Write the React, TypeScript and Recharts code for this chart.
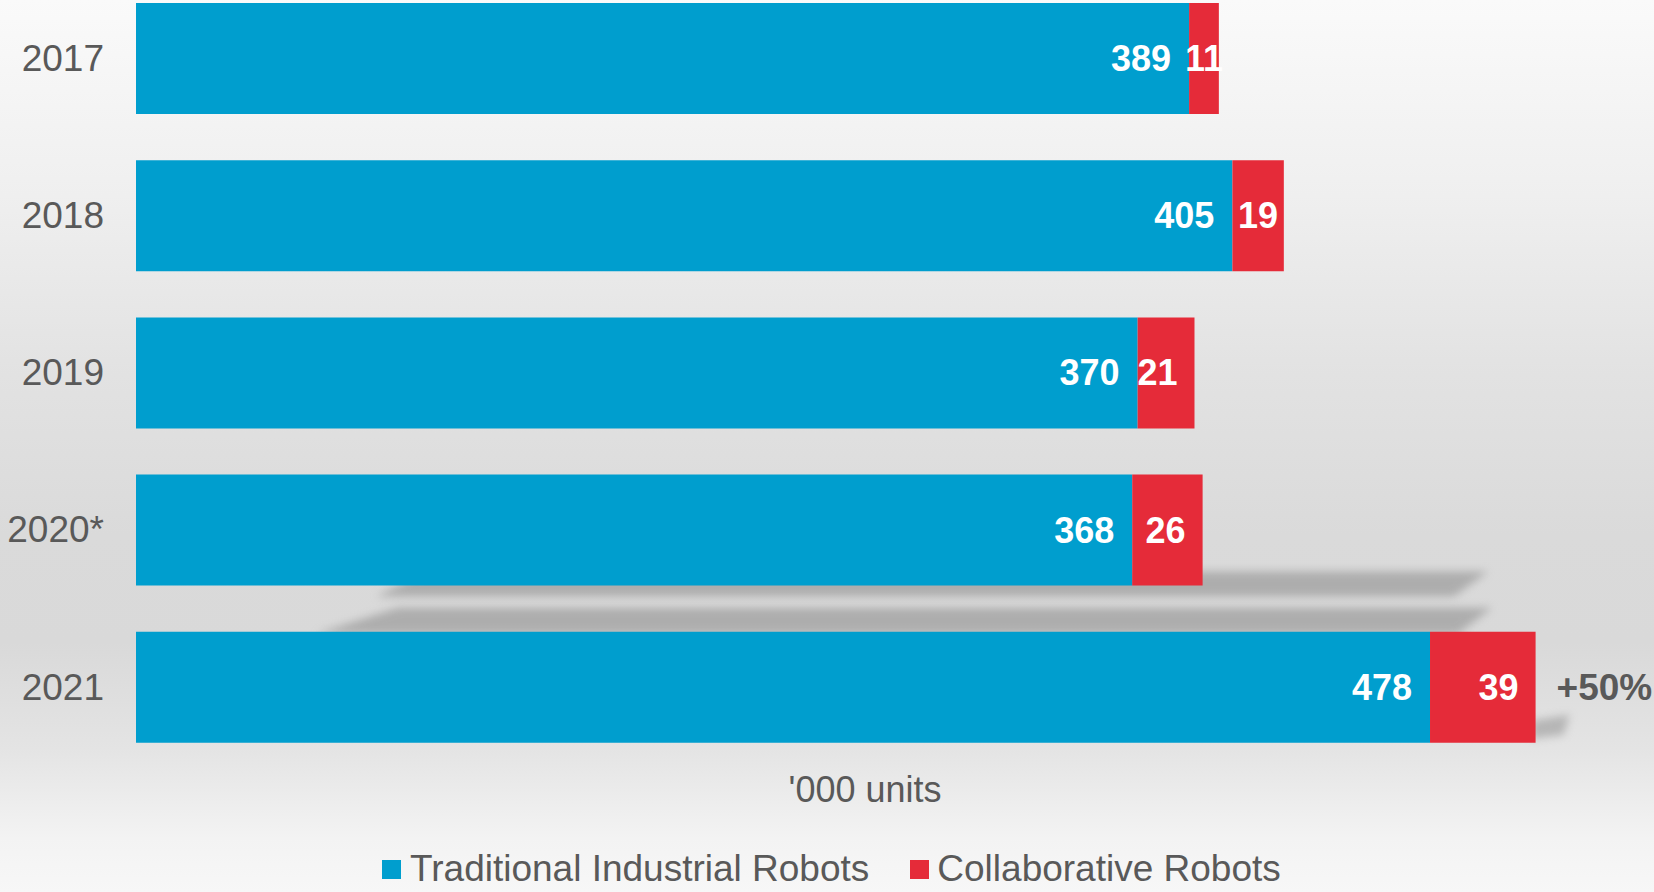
import React from 'react';
import { BarChart, Bar, XAxis, YAxis, LabelList, Rectangle } from 'recharts';

const years = ['2017', '2018', '2019', '2020*', '2021'];
const traditional = [389, 405, 370, 368, 478];
const collaborative = [11, 19, 21, 26, 39];
const growthLabels = ['', '', '', '', '+50%'];

const seriesNames = ['Traditional Industrial Robots', 'Collaborative Robots'];
const unitLabel = "'000 units";

const BLUE = '#009ECE';
const RED = '#E52B39';
const GRAY = '#595959';
const FONT = '"Liberation Sans", Arial, sans-serif';

const data = years.map((year, i) => ({
  year,
  traditional: traditional[i],
  collaborative: collaborative[i],
  growth: growthLabels[i],
}));

const BlueShape = (props: any) => {
  const { x, y, width, height, index, fill } = props;
  const yb = y + height;
  return (
    <g>
      {index === 3 && (
        <g>
          <defs>
            <filter id="shBlurA" x="-10%" y="-100%" width="120%" height="300%">
              <feGaussianBlur stdDeviation="4" />
            </filter>
          </defs>
          <polygon
            points={`${x + 290},${yb - 14} ${x + 1352},${yb - 14} ${x + 1318},${yb + 11} ${x + 240},${yb + 11}`}
            fill="#8a8a8a"
            opacity={0.55}
            filter="url(#shBlurA)"
          />
        </g>
      )}
      {index === 4 && (
        <g>
          <defs>
            <filter id="shBlurB" x="-10%" y="-100%" width="120%" height="300%">
              <feGaussianBlur stdDeviation="4" />
            </filter>
          </defs>
          <polygon
            points={`${x + 262},${y - 24} ${x + 1356},${y - 24} ${x + 1322},${y + 2} ${x + 180},${y + 2}`}
            fill="#8a8a8a"
            opacity={0.55}
            filter="url(#shBlurB)"
          />
        </g>
      )}
      <Rectangle x={x} y={y} width={width} height={height} fill={fill} />
    </g>
  );
};

const RedShape = (props: any) => {
  const { x, y, width, height, index, fill } = props;
  const xe = x + width;
  const yb = y + height;
  return (
    <g>
      {index === 4 && (
        <g>
          <defs>
            <filter id="shBlurC" x="-50%" y="-100%" width="200%" height="300%">
              <feGaussianBlur stdDeviation="4" />
            </filter>
          </defs>
          <polygon
            points={`${xe - 4},${yb - 22} ${xe + 34},${yb - 28} ${xe + 28},${yb - 8} ${xe - 4},${yb - 4}`}
            fill="#8a8a8a"
            opacity={0.5}
            filter="url(#shBlurC)"
          />
        </g>
      )}
      <Rectangle x={x} y={y} width={width} height={height} fill={fill} />
    </g>
  );
};

const BlueLabel = (props: any) => {
  const { x, y, width, height, value } = props;
  return (
    <text
      x={x + width - 18}
      y={y + height / 2}
      textAnchor="end"
      dominantBaseline="central"
      fill="#fff"
      fontFamily={FONT}
      fontWeight="bold"
      fontSize={36}
    >
      {value}
    </text>
  );
};

const RedLabel = (props: any) => {
  const { x, y, width, height, value } = props;
  const w = String(value).length * 0.556 * 36;
  const centered = width < w + 12;
  return (
    <text
      x={centered ? x + width / 2 : x + width - 17}
      y={y + height / 2}
      textAnchor={centered ? 'middle' : 'end'}
      dominantBaseline="central"
      fill="#fff"
      fontFamily={FONT}
      fontWeight="bold"
      fontSize={36}
    >
      {value}
    </text>
  );
};

const GrowthLabel = (props: any) => {
  const { x, y, width, height, value } = props;
  if (!value) return null;
  return (
    <text
      x={x + width + 21}
      y={y + height / 2}
      textAnchor="start"
      dominantBaseline="central"
      fill={GRAY}
      fontFamily={FONT}
      fontWeight="bold"
      fontSize={37}
    >
      {value}
    </text>
  );
};

export default function App() {
  return (
    <div
      style={{
        position: 'absolute',
        left: 0,
        top: 0,
        width: 1654,
        height: 892,
        overflow: 'hidden',
        background:
          'linear-gradient(to bottom, #fafafa 0%, #efefef 22%, #e2e2e2 42%, #dadada 60%, #d9d9d9 72%, #e4e4e4 84%, #f3f3f3 94%, #f7f7f7 100%)',
        fontFamily: FONT,
      }}
    >
      <div style={{ position: 'absolute', left: 0, top: -20 }}>
        <BarChart
          width={1654}
          height={912}
          data={data}
          layout="vertical"
          margin={{ top: 0, right: 2, left: 0, bottom: 126 }}
          barSize={111}
        >
          <XAxis type="number" domain={[0, 560]} hide />
          <YAxis
            type="category"
            dataKey="year"
            width={136}
            axisLine={false}
            tickLine={false}
            tickSize={0}
            tickMargin={32}
            tick={{ fill: GRAY, fontSize: 37, fontFamily: FONT, dy: -1 }}
          />
          <Bar
            dataKey="traditional"
            stackId="a"
            fill={BLUE}
            isAnimationActive={false}
            shape={BlueShape}
            name={seriesNames[0]}
          >
            <LabelList dataKey="traditional" content={BlueLabel} />
          </Bar>
          <Bar
            dataKey="collaborative"
            stackId="a"
            fill={RED}
            isAnimationActive={false}
            shape={RedShape}
            name={seriesNames[1]}
          >
            <LabelList dataKey="collaborative" content={RedLabel} />
            <LabelList dataKey="growth" content={GrowthLabel} />
          </Bar>
        </BarChart>
      </div>
      <div
        style={{
          position: 'absolute',
          left: 865,
          top: 770,
          transform: 'translateX(-50%)',
          fontSize: 36,
          lineHeight: '40px',
          color: GRAY,
          whiteSpace: 'nowrap',
        }}
      >
        {unitLabel}
      </div>
      <div
        style={{
          position: 'absolute',
          left: 382,
          top: 849,
          height: 40,
          display: 'flex',
          alignItems: 'center',
          fontSize: 37,
          color: GRAY,
          whiteSpace: 'nowrap',
        }}
      >
        <span style={{ width: 19, height: 19, background: BLUE, display: 'inline-block', marginRight: 9 }} />
        <span>{seriesNames[0]}</span>
        <span style={{ width: 19, height: 19, background: RED, display: 'inline-block', marginLeft: 41, marginRight: 8 }} />
        <span>{seriesNames[1]}</span>
      </div>
    </div>
  );
}
